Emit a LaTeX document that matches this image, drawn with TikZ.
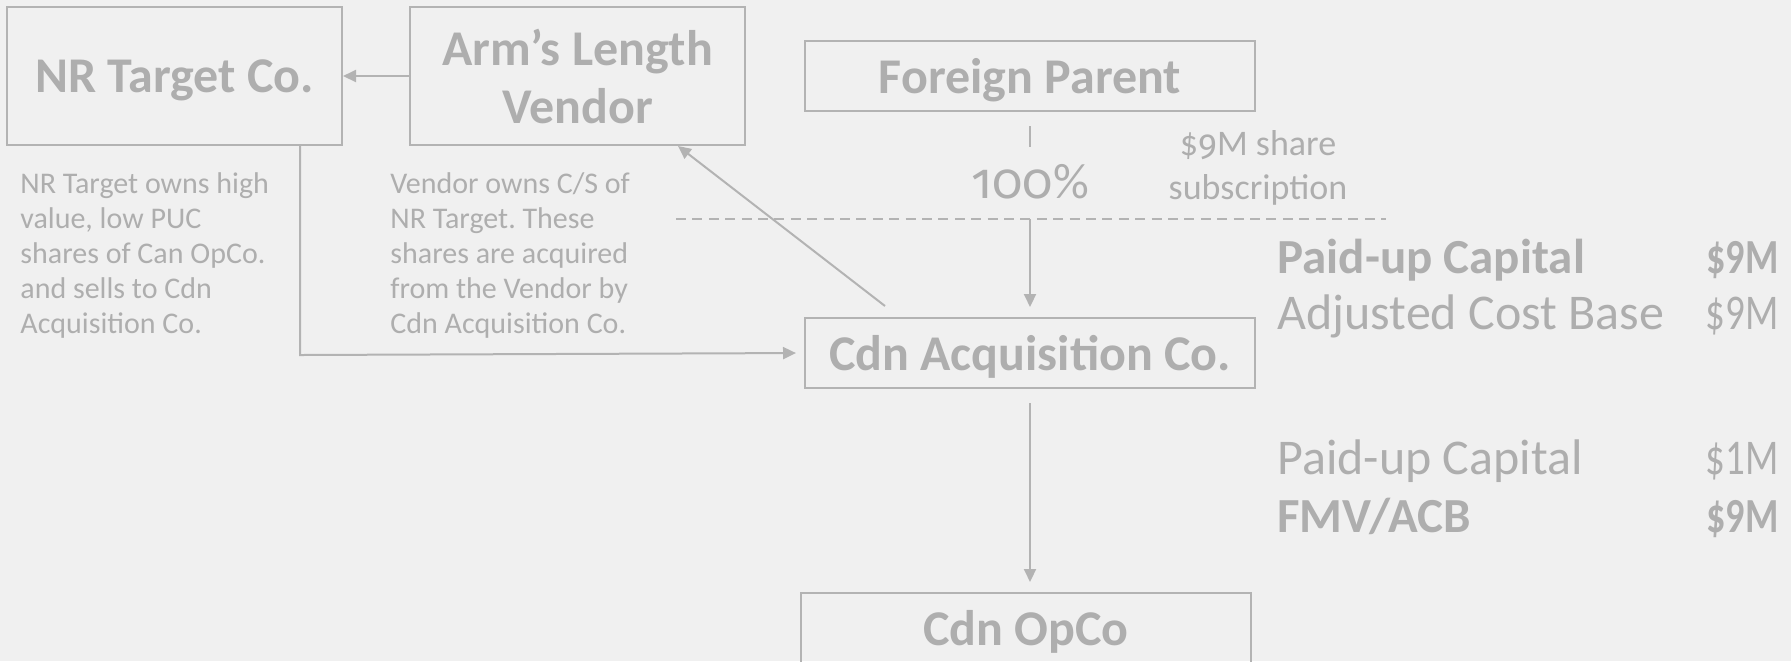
\documentclass[tikz,border=0pt]{standalone}
\usepackage{fontspec}
\setmainfont{Carlito}
\newfontfamily\osf{Fira Sans}[Numbers=OldStyle]
\newfontfamily\valfont{Carlito}[FakeStretch=0.78]
\usetikzlibrary{arrows.meta}
\frenchspacing
\definecolor{bg}{HTML}{F0F0F0}
\definecolor{ink}{HTML}{B3B3B3}
\definecolor{txt}{HTML}{AEAEAE}
\newcommand{\fig}[1]{{\osf #1}}
\tikzset{
  entity/.style={draw=ink, line width=1pt, text=txt, align=center,
    font=\fontsize{25}{29}\selectfont\bfseries, inner sep=0pt},
  oneline/.style={entity, text depth=0pt},
  note/.style={text=txt, align=left, anchor=north west, inner sep=0pt,
    font=\fontsize{15}{17.5}\selectfont\frenchspacing},
  tabreg/.style={text=txt, inner sep=0pt, font=\fontsize{25}{30}\selectfont},
  tabbold/.style={text=txt, inner sep=0pt, font=\fontsize{24.5}{30}\selectfont\bfseries},
  valreg/.style={text=txt, inner sep=0pt, font=\fontsize{25}{30}\valfont},
  valbold/.style={text=txt, inner sep=0pt, font=\fontsize{24.5}{30}\valfont\bfseries},
  link/.style={draw=ink, line width=1pt},
  arr/.style={link, -{Triangle[length=6.5pt,width=6pt]}},
}
\begin{document}
\begin{tikzpicture}[x=0.5pt,y=-0.5pt]
\fill[bg] (0,0) rectangle (1791,661);
\useasboundingbox (0,0) rectangle (1791,661);

% company boxes
\node[oneline, minimum width=167.5pt, minimum height=69pt] (nr) at (174.5,76) {NR Target Co.};
\node[entity, minimum width=167.5pt, minimum height=69pt] (vendor) at (577.5,76) {Arm’s Length\\Vendor};
\node[oneline, minimum width=225pt, minimum height=35pt] (fp) at (1030,76) {Foreign Parent};
\node[oneline, minimum width=225pt, minimum height=35pt] (acq) at (1030,353) {Cdn Acquisition Co.};
\node[oneline, minimum width=225pt, minimum height=35pt] (opco) at (1026,628) {Cdn OpCo};

% explanatory notes
\node[note] (n1) at (20,172) {NR Target owns high\\value, low PUC\\shares of Can OpCo.\\and sells to Cdn\\Acquisition Co.};
\node[note] (n2) at (390,172) {Vendor owns C/S of\\NR Target. These\\shares are acquired\\from the Vendor by\\Cdn Acquisition Co.};

% ownership and subscription labels
\node[text=txt, inner sep=0pt, font=\fontsize{25}{30}\selectfont] (pct) at (1030,182) {\fig{100}\%};
\node[text=txt, inner sep=0pt, align=center, font=\fontsize{18}{22.3}\selectfont] (sub) at (1258,168) {\$\fig{9}M share\\subscription};

% tax attribute table
\node[tabbold, anchor=base west] (t1) at (1277,273) {Paid-up Capital};
\node[valbold, anchor=base east] (v1) at (1779,273) {\$9M};
\node[tabreg, anchor=base west] (t2) at (1277,329) {Adjusted Cost Base};
\node[valreg, anchor=base east] (v2) at (1779,329) {\$9M};
\node[tabreg, anchor=base west] (t3) at (1277,474) {Paid-up Capital};
\node[valreg, anchor=base east] (v3) at (1779,474) {\$1M};
\node[tabbold, anchor=base west] (t4) at (1277,532) {FMV/ACB};
\node[valbold, anchor=base east] (v4) at (1779,532) {\$9M};

% helper points
\coordinate (dl) at (676,219);
\coordinate (dr) at (1386,219);
\coordinate (dm) at (1030,219);
\coordinate (tk1) at (1030,126);
\coordinate (tk2) at (1030,147);
\coordinate (nrd) at (300,145);
\coordinate (nrc) at (300,355);
\coordinate (vb) at (678,146);
\coordinate (ap) at (885,306);

% connectors
\draw[arr] (vendor.west) -- (nr.east);
\draw[link] (tk1) -- (tk2);
\draw[link, dash pattern=on 5pt off 3.2pt] (dl) -- (dr);
\draw[arr, shorten >=5pt] (dm) -- (acq.north);
\draw[arr] (ap) -- (vb);
\draw[arr, shorten >=4pt] (nrd) -- (nrc) -- (acq.west);
\draw[arr, shorten <=7pt, shorten >=5pt] (acq.south) -- (acq.south |- opco.north);
\end{tikzpicture}
\end{document}
